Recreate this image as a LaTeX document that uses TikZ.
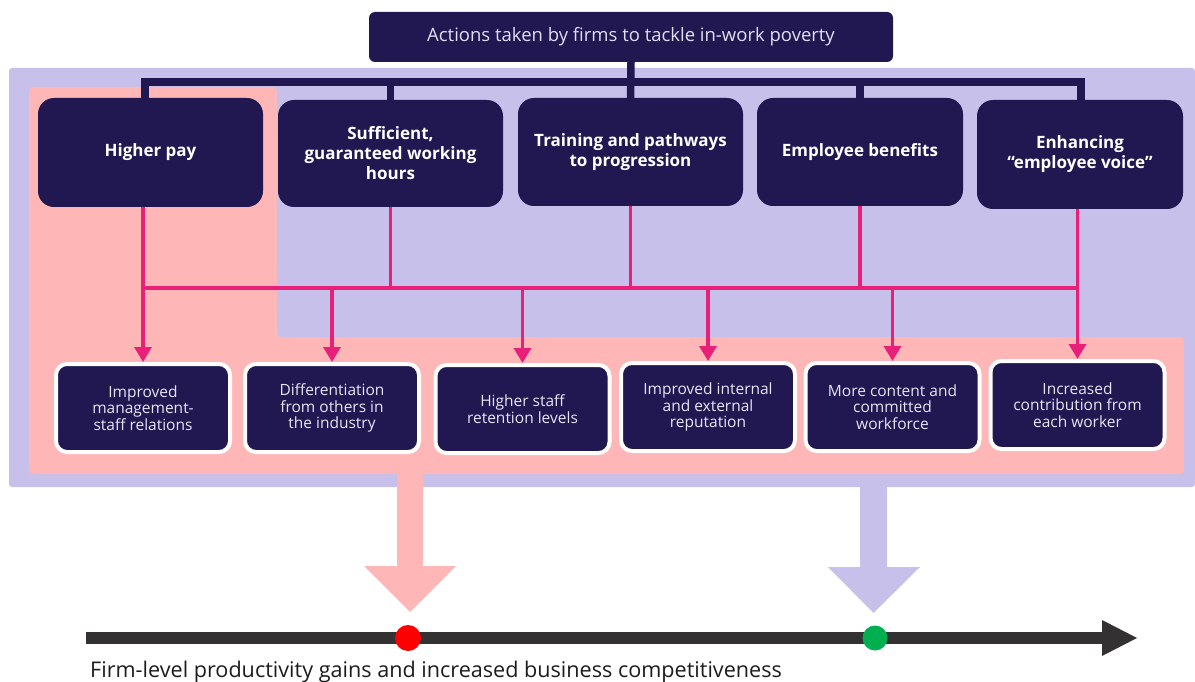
\documentclass[tikz,border=0pt]{standalone}
\usepackage{fontspec}
\setmainfont{Open Sans}
\usetikzlibrary{arrows.meta}

\definecolor{navy}{HTML}{211852}
\definecolor{lav}{HTML}{C6C0EA}
\definecolor{blush}{HTML}{FFB6B6}
\definecolor{linkpink}{HTML}{E8207A}
\definecolor{axisgrey}{HTML}{333132}
\definecolor{paletext}{HTML}{E8E6F5}
\definecolor{titletext}{HTML}{E2DFF2}
\definecolor{labeltext}{HTML}{1C1C1C}
\definecolor{dotred}{HTML}{FF0000}
\definecolor{dotgreen}{HTML}{00B050}

\begin{document}
\begin{tikzpicture}[x=1pt,y=-1pt,
  action/.style={fill=navy, rounded corners=16pt, inner sep=0pt, text=white,
    align=center, font=\bfseries\fontsize{17}{20}\selectfont},
  outcome/.style={fill=navy, draw=white, line width=4pt, rounded corners=11pt,
    minimum width=174pt, minimum height=88pt, inner sep=0pt, text=paletext,
    align=center, font=\fontsize{15.5}{16.8}\selectfont},
  tree/.style={draw=navy, line width=7.5pt},
  feed/.style={draw=linkpink, line width=3.5pt},
  feedarrow/.style={feed, -{Triangle[width=17pt,length=15pt]}},
]
\useasboundingbox (0,0) rectangle (1195,682);

% background panels
\fill[lav, rounded corners=3pt] (9,68) rectangle (1195,487);
\fill[blush, rounded corners=4pt] (29,87) -- (277,87) -- (277,337) -- (1184,337)
  -- (1184,474) -- (29,474) -- cycle;

% block arrows down to the axis
\fill[blush] (397,470) -- (423,470) -- (423,566) -- (456,566) -- (410,612)
  -- (364,566) -- (397,566) -- cycle;
\fill[lav] (860,483) -- (887,483) -- (887,567) -- (920,567) -- (873.5,613)
  -- (828,567) -- (860,567) -- cycle;

% title and actions
\node[fill=navy, rounded corners=6pt, minimum width=524pt, minimum height=50pt,
  inner sep=0pt, text=titletext, font=\fontsize{18.5}{22}\selectfont]
  (title) at (631,37) {Actions taken by firms to tackle in-work poverty};

\node[action, minimum width=225pt, minimum height=109pt] (hp) at (150.5,152.5) {Higher pay};
\node[action, minimum width=225pt, minimum height=107pt] (suf) at (390.5,153.5)
  {Sufficient,\\guaranteed working\\hours};
\node[action, minimum width=225pt, minimum height=108pt] (trn) at (630.5,152)
  {Training and pathways\\to progression};
\node[action, minimum width=206pt, minimum height=108pt] (emp) at (860,152) {Employee benefits};
\node[action, minimum width=206pt, minimum height=109pt] (voice) at (1080,154.5)
  {Enhancing\\“employee voice”};

% outcomes
\node[outcome] (o1) at (143,408) {Improved\\management-\\staff relations};
\node[outcome] (o2) at (332,408) {Differentiation\\from others in\\the industry};
\node[outcome] (o3) at (522.5,409) {Higher staff\\retention levels};
\node[outcome] (o4) at (708,407) {Improved internal\\and external\\reputation};
\node[outcome] (o5) at (892.5,407) {More content and\\committed\\workforce};
\node[outcome] (o6) at (1077.5,405) {Increased\\contribution from\\each worker};

% tree from the title to the actions
\coordinate (bar) at (0,82);
\coordinate (hpTop) at ([xshift=-5.5pt]hp.north);
\coordinate (voTop) at ([xshift=1pt]voice.north);
\draw[tree] (title.south) -- (trn.north);
\draw[tree, line join=miter] (hpTop) -- (hpTop |- bar) -- (voTop |- bar) -- (voTop);
\draw[tree] (suf.north) -- (suf.north |- bar);
\draw[tree] (emp.north) -- (emp.north |- bar);

% links from the actions to the outcomes
\coordinate (hbar) at (0,288);
\coordinate (hpBot) at ([xshift=-7.5pt]hp.south);
\coordinate (voBot) at ([xshift=-2.5pt]voice.south);
\draw[feed] (hpBot |- hbar) -- (voBot |- hbar);
\draw[feed] (suf.south) -- (suf.south |- hbar);
\draw[feed] (trn.south) -- (trn.south |- hbar);
\draw[feed] (emp.south) -- (emp.south |- hbar);
\draw[feedarrow] (hpBot) -- (o1.north);
\draw[feedarrow] (voBot) -- (o6.north);
\draw[feedarrow] (o2.north |- hbar) -- (o2.north);
\draw[feedarrow] (o3.north |- hbar) -- (o3.north);
\draw[feedarrow] (o4.north |- hbar) -- (o4.north);
\draw[feedarrow] (o5.north |- hbar) -- (o5.north);

% productivity axis
\fill[axisgrey] (86,632) rectangle (1103,644);
\fill[axisgrey] (1102,620) -- (1137,638) -- (1102,656) -- cycle;
\fill[dotred] (408,638) circle[radius=13pt];
\fill[dotgreen] (875,638) circle[radius=12.5pt];
\node[anchor=base west, inner sep=0pt, text=labeltext,
  font=\fontsize{21.6}{25}\selectfont] (gain) at (90,677)
  {Firm-level productivity gains and increased business competitiveness};
\end{tikzpicture}
\end{document}
